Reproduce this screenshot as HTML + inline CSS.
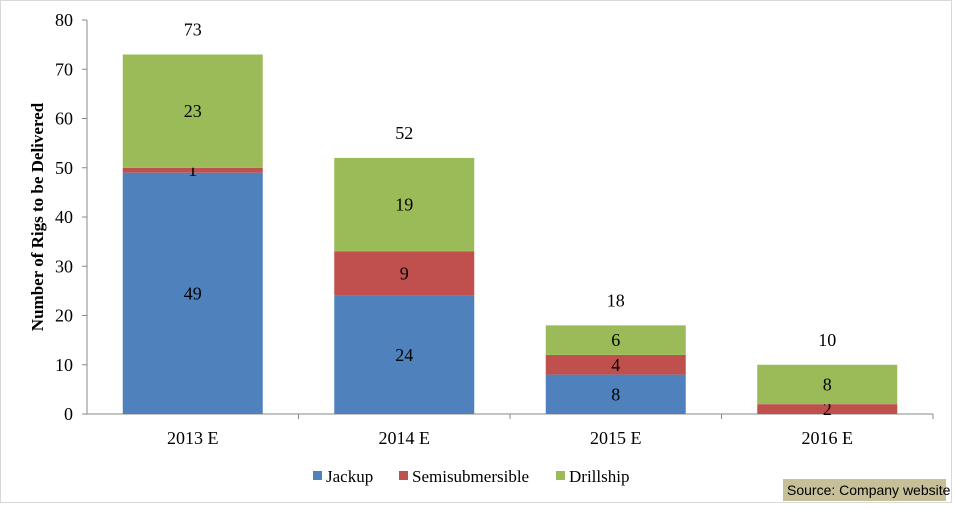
<!DOCTYPE html>
<html><head><meta charset="utf-8"><style>
body{margin:0;background:#fff;width:956px;height:505px;overflow:hidden;font-family:"Liberation Serif",serif;}
svg text{font-family:"Liberation Serif",serif;}
</style></head><body>
<svg width="956" height="505">
<rect x="0.5" y="0.5" width="951" height="502" fill="#fff" stroke="#d8d8d8"/>
<g id="axes"></g><g id="bars"></g>
<g>
<rect x="313" y="471" width="9" height="9" fill="#4f81bd"/>
<text x="326" y="482" font-size="17">Jackup</text>
<rect x="399" y="471" width="9" height="9" fill="#c0504d"/>
<text x="412" y="482" font-size="17">Semisubmersible</text>
<rect x="556" y="471" width="9" height="9" fill="#9bbb59"/>
<text x="569" y="482" font-size="17">Drillship</text>
</g>
<text transform="translate(43,217) rotate(-90)" text-anchor="middle" font-size="17" font-weight="bold">Number  of Rigs to be Delivered</text>
<rect x="783" y="479" width="163" height="22" fill="#c7bf97"/>
<text x="787" y="495" font-size="14" style="font-family:'Liberation Sans',sans-serif">Source: Company website</text>
</svg>
<script>
const categories=["2013 E","2014 E","2015 E","2016 E"];
const jackup=[49,24,8,0];
const semi=[1,9,4,2];
const drill=[23,19,6,8];
const totals=[73,52,18,10];
const yTicks=[0,10,20,30,40,50,60,70,80];
const NS="http://www.w3.org/2000/svg";
const x0=87,x1=933,y0=414,y1=20,yMax=80;
const y=v=>y0-(v/yMax)*(y0-y1);
const band=(x1-x0)/categories.length;
const cx=i=>x0+band*(i+0.5);
const bw=140;
function mk(tag,attrs,parent){const e=document.createElementNS(NS,tag);for(const k in attrs)e.setAttribute(k,attrs[k]);parent.appendChild(e);return e;}
const axes=document.getElementById('axes'),bars=document.getElementById('bars');
let l=mk('line',{x1:x0,y1:y1,x2:x0,y2:y0,stroke:'#888'},axes);


l=mk('line',{x1:x0,y1:y0,x2:x1,y2:y0,stroke:'#888'},axes);


yTicks.forEach(t=>{
 const tk=mk('line',{x1:x0-5,y1:y(t),x2:x0,y2:y(t),stroke:'#888'},axes);
 
 
 const tx=mk('text',{x:x0-14,y:y(t)+6,'text-anchor':'end','font-size':18},axes);
 tx.textContent=t;
 
 
});
categories.forEach((c,i)=>{
 const tk=mk('line',{x1:x0+band*(i+1),y1:y0,x2:x0+band*(i+1),y2:y0+5,stroke:'#888'},axes);
 
 
 const tx=mk('text',{x:cx(i),y:y0+30,'text-anchor':'middle','font-size':18},axes);
 tx.textContent=c;
 
 
 const segs=[[jackup[i],'#4f81bd','jackup'],[semi[i],'#c0504d','semisubmersible'],[drill[i],'#9bbb59','drillship']];
 let base=0;
 segs.forEach(([v,col,nm])=>{
  if(v>0){
   const r=mk('rect',{x:cx(i)-bw/2,y:y(base+v),width:bw,height:y(base)-y(base+v),fill:col},bars);
   
   
   const lb=mk('text',{x:cx(i),y:(y(base)+y(base+v))/2+6,'text-anchor':'middle','font-size':18},bars);
   lb.textContent=v;
   
   
  }
  base+=v;
 });
 const tl=mk('text',{x:cx(i),y:y(totals[i])-19,'text-anchor':'middle','font-size':18},bars);
 tl.textContent=totals[i];
 
 
});
</script>
</body></html>
